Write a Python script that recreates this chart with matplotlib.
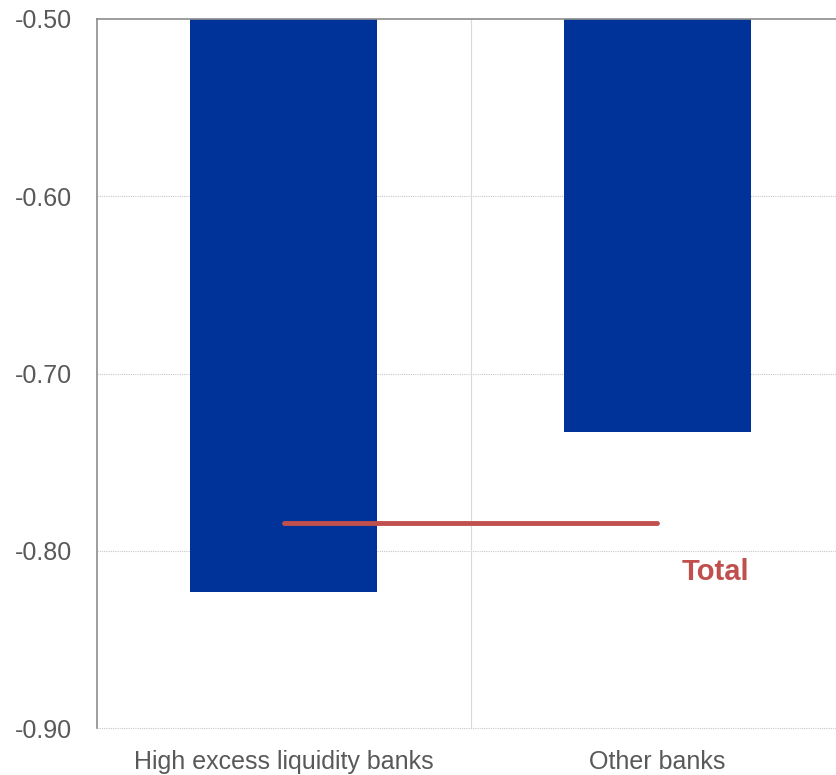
import numpy as np
from matplotlib import pyplot as plt

plt.rcParams['font.family'] = ['Liberation Sans', 'DejaVu Sans']

categories = ["High excess liquidity banks", "Other banks"]
values = [-0.823, -0.733]
total = -0.7845
yticks = [-0.90, -0.80, -0.70, -0.60, -0.50]

fig = plt.figure(figsize=(8.36, 7.75), dpi=100)
ax = fig.add_axes([97/836, 47/775, 747/836, 709/775])

x = np.arange(len(categories))
ax.bar(x, values, width=0.5, color='#003399', zorder=2)
ax.plot([x[0], x[-1]], [total, total], color='#C0504D', lw=3.5,
        solid_capstyle='round', zorder=3)
ax.text(x[-1] + 0.155, total - 0.0275, "Total", color='#C0504D',
        fontsize=21, fontweight='bold', ha='center', va='center')

ax.set_xlim(-0.5, 1.5)
ax.set_ylim(-0.90, -0.50)
ax.set_yticks(yticks)
ax.set_yticklabels([f"{v:.2f}" for v in yticks])
ax.set_xticks(x)
ax.set_xticklabels(categories)
ax.tick_params(length=0, labelsize=18, colors='#595959')
ax.tick_params(axis='y', pad=18)
ax.tick_params(axis='x', pad=16)

for v in yticks[:-1]:
    ax.axhline(v, color='#c8c8c8', lw=0.8, ls=(0, (1, 1)), zorder=1, clip_on=False)
ax.axvline(0.5, color='#d9d9d9', lw=0.8, zorder=1)

for s in ['right', 'bottom']:
    ax.spines[s].set_visible(False)
for s in ['left', 'top']:
    ax.spines[s].set_color('#8c8c8c')
    ax.spines[s].set_linewidth(1.2)

fig.savefig("out.png", dpi=100)
